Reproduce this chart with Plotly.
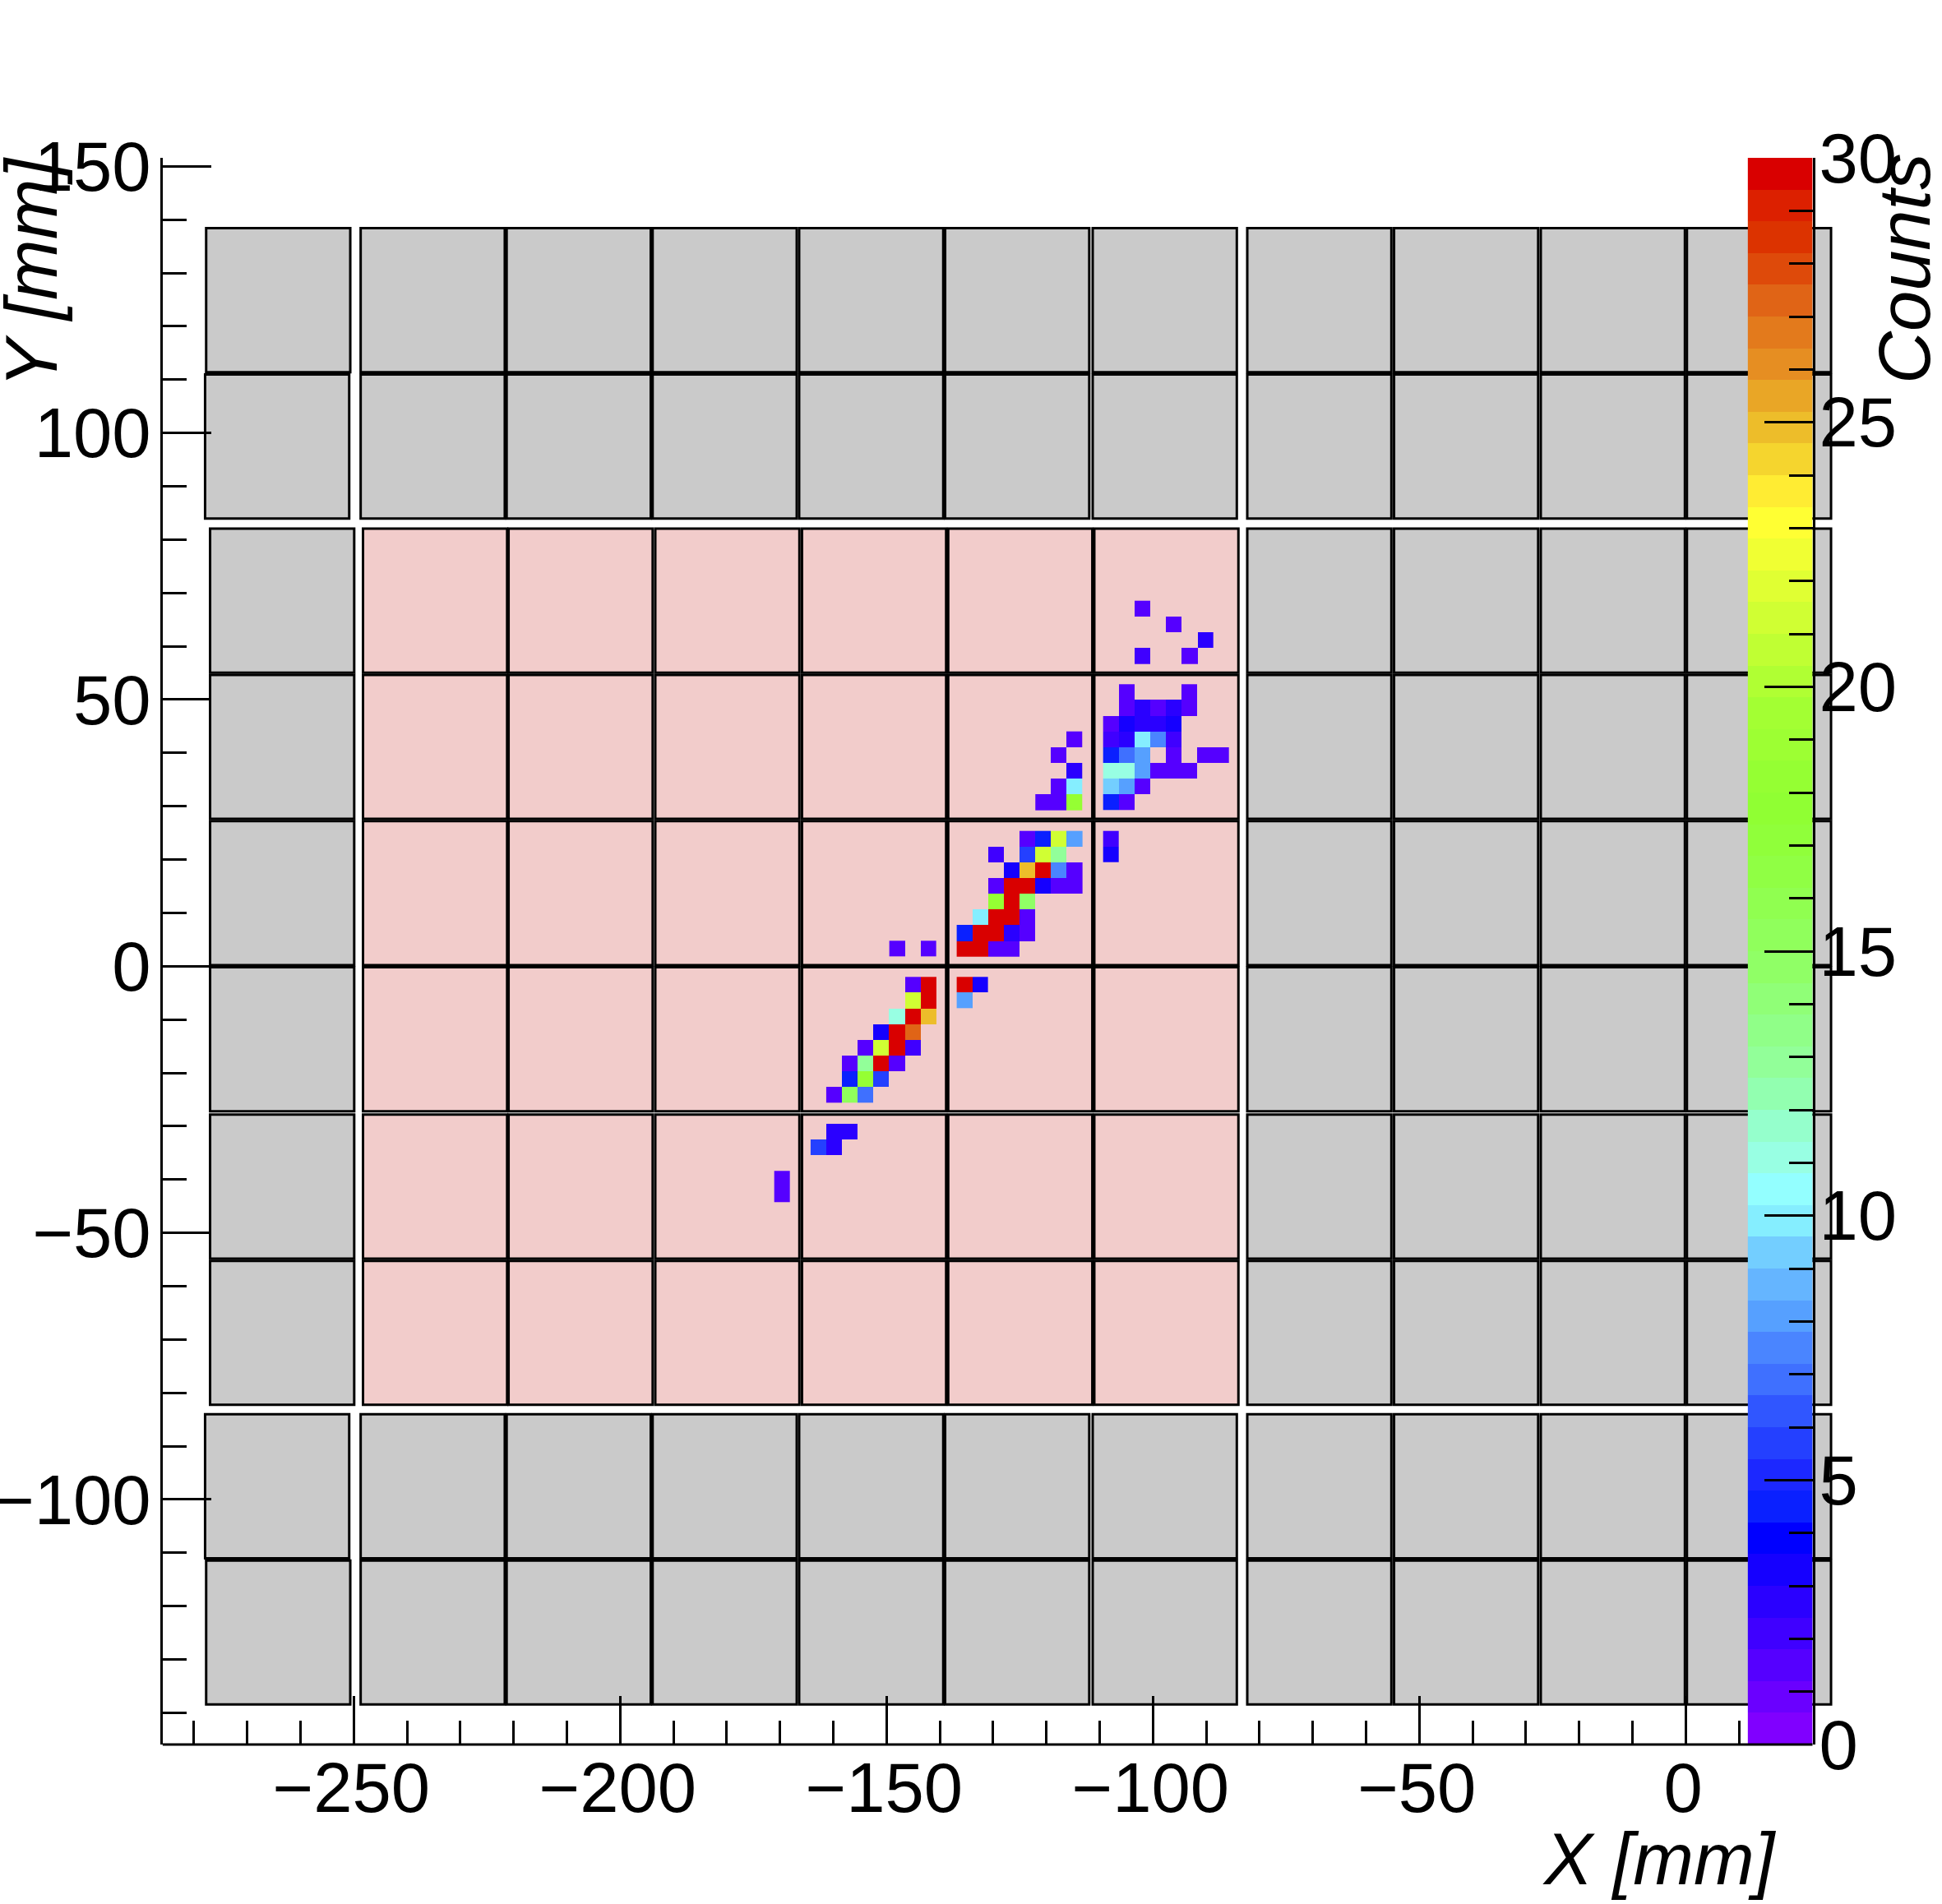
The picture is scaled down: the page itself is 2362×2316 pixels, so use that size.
import plotly.graph_objects as go

W, H = 2362, 2316
N = None

# ---- axes ----
x_range = [-285.9, 28.0]
y_range = [-145.96, 151.6]
x_axis_end = 23.8
x_ticks = [-250, -200, -150, -100, -50, 0]
y_ticks = [-100, -50, 0, 50, 100, 150]
z_ticks = [0, 5, 10, 15, 20, 25, 30]

# ---- detector modules (left edges / top edges in mm) ----
module_w = 27.05
module_h = 27.0
central_lefts = [-276.96, -248.26, -220.94, -193.4, -165.86, -138.42, -111.0, -82.29, -54.74, -27.2, 0.23]
central_tops = [82.05, 54.63, 27.2, -0.19, -27.83, -55.25]
active_lefts = [-248.26, -220.94, -193.4, -165.86, -138.42, -111.0]
outer_lefts = [-248.7, -221.3, -193.9, -166.4, -139.0, -111.3, -82.29, -54.74, -27.2, 0.23]
outer_tops = [138.4, 110.96, -84.03, -111.45]
corner_lefts = [-277.7, -277.9, -277.9, -277.7]

# ---- hit counts, one block per grid patch ----
pitch_x = 2.951
pitch_y = 2.949

a_upper_x0, a_upper_y0 = -107.87, 67.07
a_upper_z = [
    [N, N, 1.5, N, N, N, N],
    [N, N, N, N, 1.5, N, N],
    [N, N, N, N, N, N, 2.7],
    [N, N, 2.1, N, N, 1.5, N],
]

a_lower_x0, a_lower_y0 = -107.87, 51.41
a_lower_z = [
    [N, 1.5, N, N, N, 1.5, N, N],
    [N, 1.5, 2.4, 1.5, 2.7, 1.5, N, N],
    [1.5, 3.3, 2.4, 2.7, 3.3, N, N, N],
    [2.1, 2.7, 9.9, 7.5, 2.1, N, N, N],
    [4.5, 6.6, 8.1, N, 1.5, N, 1.5, 1.5],
    [11.1, 11.1, 8.1, 1.5, 1.5, 1.5, N, N],
    [9.3, 8.1, 1.5, N, N, N, N, N],
    [4.5, 1.5, N, N, N, N, N, N],
]

a_mid_x0, a_mid_y0 = -107.87, 23.9
a_mid_z = [[2.1], [3.3]]

b_x0, b_y0 = -120.59, 42.56
b_z = [
    [N, N, 1.5],
    [N, 1.5, N],
    [N, N, 2.7],
    [N, 1.5, 9.9],
    [1.5, 1.5, 18.3],
]

c_x0, c_y0 = -135.35, 23.9
c_z = [
    [N, N, N, N, 1.5, 4.5, 21.3, 8.1],
    [N, N, 2.1, N, 5.4, 21.3, 12.9, N],
    [N, N, N, 3.3, 24.9, 30, 7.5, 1.5],
    [N, N, 1.5, 30, 30, 3.3, 1.5, 1.5],
    [N, N, 18.3, 30, 14.7, N, N, N],
    [N, 9.9, 30, 30, 1.5, N, N, N],
    [4.5, 30, 30, 2.4, 1.5, N, N, N],
    [30, 30, 1.5, 1.5, N, N, N, N],
]

d_x0, d_y0 = -159.84, -3.48
d_z = [
    [N, N, N, N, N, 1.5, 30],
    [N, N, N, N, N, 21.3, 30],
    [N, N, N, N, 11.1, 30, 24.9],
    [N, N, N, 3.3, 30, 27.3, N],
    [N, N, 1.5, 21.3, 30, 2.1, N],
    [N, 1.5, 12.9, 30, 1.5, N, N],
    [N, 4.5, 18.3, 5.4, N, N, N],
    [1.5, 15.3, 6.6, N, N, N, N],
]

e_x0, e_y0 = -162.77, -31.03
e_z = [
    [N, 2.4, 2.4],
    [5.4, 2.4, N],
]

f_x0, f_y0 = -169.6, -39.86
f_z = [[1.5], [1.5]]

g_x0, g_y0 = -135.35, -3.48
g_z = [
    [30, 3.3],
    [8.1, N],
]

h_x0, h_y0 = -148.0, 3.30
h_z = [[1.5, N, 1.5]]

# ---- palette: 50 bands from 0 to 30 counts ----
z_min, z_max = 0, 30
palette = [
    "#8000ff", "#6a00ff", "#5500ff", "#3f00ff", "#2a00ff", "#1500ff", "#0000ff", "#0a20ff", "#1c28ff", "#2440ff",
    "#3056ff", "#3f70ff", "#4a85ff", "#56a0ff", "#65b5ff", "#73ceff", "#85eeff", "#93ffff", "#98ffe3", "#95ffcc",
    "#92ffb0", "#92ff99", "#90ff88", "#90ff77", "#90ff66", "#90ff5c", "#90ff50", "#90ff44", "#90ff3a", "#90ff33",
    "#95ff33", "#9dff33", "#a3ff33", "#b0ff33", "#c0ff33", "#d0ff33", "#e0ff33", "#f0ff33", "#ffff33", "#ffec33",
    "#f5d52e", "#edbd2a", "#e9a626", "#e68e22", "#e37a1c", "#e06416", "#de4a0a", "#dc3300", "#dc2000", "#d90000",
]
n_levels = len(palette)
colorscale = []
for i, c in enumerate(palette):
    colorscale.append([i / n_levels, c])
    colorscale.append([(i + 1) / n_levels, c])
bar_levels = [(i + 0.5) * (z_max - z_min) / n_levels for i in range(n_levels)]
bar_edges = [i * (z_max - z_min) / n_levels for i in range(n_levels + 1)]

# ---- page layout (pixels) ----
px_left, px_right, px_top, px_bottom = 197.6, 2231.7, 192.0, 2122.0
bar_left, bar_right = 2125.6, 2204.6
x_dom = [px_left / W, px_right / W]
y_dom = [1 - px_bottom / H, 1 - px_top / H]

FONT = "Liberation Sans"
SIZE = 85
TITLE_SIZE = 88.5

fig = go.Figure()

blocks = [
    (a_upper_x0, a_upper_y0, a_upper_z),
    (a_lower_x0, a_lower_y0, a_lower_z),
    (a_mid_x0, a_mid_y0, a_mid_z),
    (b_x0, b_y0, b_z),
    (c_x0, c_y0, c_z),
    (d_x0, d_y0, d_z),
    (e_x0, e_y0, e_z),
    (f_x0, f_y0, f_z),
    (g_x0, g_y0, g_z),
    (h_x0, h_y0, h_z),
]
for bx0, by0, bz in blocks:
    fig.add_trace(go.Heatmap(
        x0=bx0, dx=pitch_x, y0=by0, dy=-pitch_y, z=bz,
        coloraxis="coloraxis", xaxis="x", yaxis="y",
        hoverongaps=False,
    ))

# palette bar
fig.add_trace(go.Heatmap(
    x=[0, 1], y=bar_edges, z=[[v] for v in bar_levels],
    coloraxis="coloraxis", xaxis="x3", yaxis="y3",
))


def module(x0, top, fill):
    return dict(
        type="rect", xref="x", yref="y", layer="below",
        x0=x0, x1=x0 + module_w, y0=top - module_h, y1=top,
        fillcolor=fill, line=dict(color="black", width=3),
    )


GREY = "#cacaca"
PINK = "#f2cccb"
shapes = []
for t in central_tops:
    for l in central_lefts:
        shapes.append(module(l, t, PINK if l in active_lefts else GREY))
for k, t in enumerate(outer_tops):
    shapes.append(module(corner_lefts[k], t, GREY))
    for l in outer_lefts:
        shapes.append(module(l, t, GREY))
shapes.append(dict(
    type="line", xref="x", yref="paper", layer="above",
    x0=x_range[0], x1=x_axis_end, y0=y_dom[0], y1=y_dom[0],
    line=dict(color="black", width=3),
))

tick_font = dict(family=FONT, size=SIZE, color="black")
title_font = dict(family=FONT, size=TITLE_SIZE, color="black", style="italic")


def text(s, x, y, xanchor, yanchor, angle=0):
    return dict(
        text=s, xref="paper", yref="paper", x=x / W, y=1 - y / H,
        xanchor=xanchor, yanchor=yanchor, showarrow=False,
        textangle=angle, font=title_font,
    )


fig.update_layout(
    width=W, height=H, autosize=False,
    margin=dict(l=0, r=0, t=0, b=0, autoexpand=False),
    paper_bgcolor="white", plot_bgcolor="rgba(0,0,0,0)",
    showlegend=False,
    coloraxis=dict(colorscale=colorscale, cmin=z_min, cmax=z_max, showscale=False),
    shapes=shapes,
    annotations=[
        text("Counts", 2316, 185, "center", "top", -90),
        text("Y [mm]", 38, 189, "center", "top", -90),
        text("X [mm]", 2163, 2261, "right", "middle"),
    ],
    xaxis=dict(
        domain=x_dom, range=x_range, anchor="y", automargin=False,
        tickmode="array", tickvals=x_ticks,
        ticks="inside", ticklen=59, tickwidth=3, tickcolor="black",
        minor=dict(ticks="inside", ticklen=29, tickwidth=3, tickcolor="black", dtick=10, tick0=0, showgrid=False),
        showgrid=False, zeroline=False, showline=False,
        tickfont=tick_font, ticklabelstandoff=-4, ticklabelshift=-3,
    ),
    yaxis=dict(
        domain=y_dom, range=y_range, anchor="x", automargin=False,
        tickmode="array", tickvals=y_ticks,
        ticks="inside", ticklen=59, tickwidth=3, tickcolor="black",
        minor=dict(ticks="inside", ticklen=29, tickwidth=3, tickcolor="black", dtick=10, tick0=0, showgrid=False),
        showgrid=False, zeroline=False, showline=True, linecolor="black", linewidth=3,
        tickfont=tick_font, ticklabelstandoff=-6,
    ),
    xaxis3=dict(domain=[bar_left / W, bar_right / W], range=[0, 1], anchor="y3", visible=False, automargin=False),
    yaxis3=dict(
        domain=y_dom, range=[z_min, z_max], anchor="x3", side="right", automargin=False,
        tickmode="array", tickvals=z_ticks,
        ticks="inside", ticklen=59, tickwidth=3, tickcolor="black",
        minor=dict(ticks="inside", ticklen=29, tickwidth=3, tickcolor="black", dtick=1, tick0=0, showgrid=False),
        showgrid=False, zeroline=False, showline=True, linecolor="black", linewidth=3,
        tickfont=tick_font, ticklabelstandoff=-12,
    ),
)

fig.write_html(
    "out.html",
    config=dict(displayModeBar=False),
    post_script="document.body.style.margin='0';document.body.style.overflow='hidden';",
)
